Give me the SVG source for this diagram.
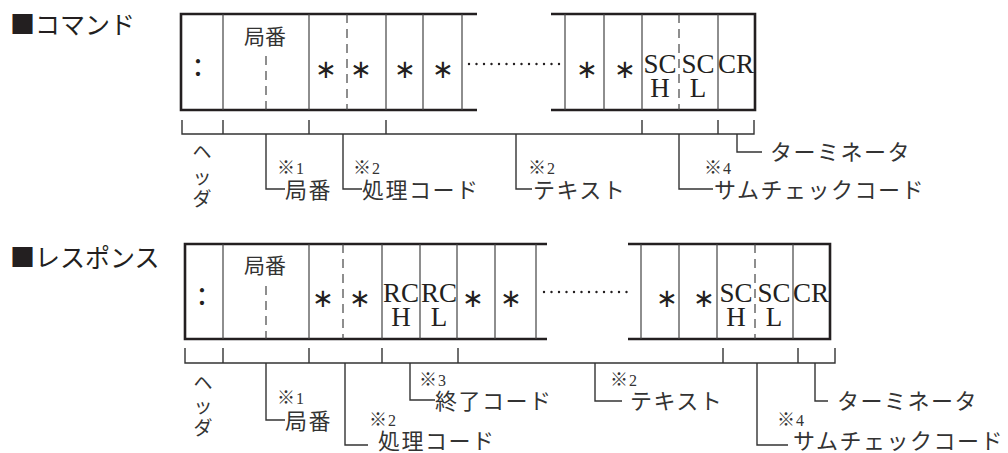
<svg xmlns="http://www.w3.org/2000/svg" width="1008" height="453" viewBox="0 0 1008 453">
<style>
.bg{fill:#fff}
.thick{stroke:#231f20;stroke-width:2.6;fill:none}
.col{stroke:#444;stroke-width:1.2;fill:none}
.dash{stroke:#444;stroke-width:1.2;stroke-dasharray:9 6;fill:none}
.dots{stroke:#231f20;stroke-width:2.4;stroke-linecap:round;stroke-dasharray:0 7.5;fill:none}
.br{stroke:#333;stroke-width:1.4;fill:none}
.title{font-family:"Noto Sans CJK JP",sans-serif;font-size:25px;fill:#231f20}
.jp{font-family:"Noto Sans CJK JP",sans-serif;font-size:22px;fill:#333;letter-spacing:1.5px}
.vt{font-family:"Noto Sans CJK JP",sans-serif;font-size:19px;fill:#333;text-anchor:middle}
.note{font-family:"Noto Sans CJK JP",sans-serif;font-size:18px;fill:#333}
.num{font-family:"Liberation Serif",serif;font-size:16px}
.cell{font-family:"Liberation Serif",serif;font-size:27px;fill:#231f20;text-anchor:middle}
.colon{font-family:"Liberation Serif",serif;font-size:36px;fill:#231f20;text-anchor:middle}
.ast{font-family:"DejaVu Sans",sans-serif;font-size:26px;fill:#231f20;text-anchor:middle}
.cjkc{font-family:"Noto Sans CJK JP",sans-serif;font-size:21px;fill:#333;text-anchor:middle}
</style>
<rect class="bg" width="1008" height="453"/>

<g id="title-command"><text class="title" x="10" y="34">■コマンド</text></g>
<g id="title-response"><text class="title" x="10" y="267">■レスポンス</text></g>

<g id="command-frame">
  <path class="thick" d="M477 14 H181 V110 H477"/>
  <path class="thick" d="M551 14 H755 V110 H551"/>
  <path class="col" d="M223 14 V110 M309 14 V110 M386 14 V110 M423 14 V110 M462 14 V110 M565 14 V110 M604 14 V110 M642 14 V110 M718 14 V110"/>
  <path class="dash" d="M266 56 V110 M347 14 V110 M679 14 V110"/>
  <path class="dots" d="M469 64 H562"/>
</g>
<g id="command-cells">
  <text class="colon" x="198" y="76">:</text>
  <text class="cjkc" x="265" y="44">局番</text>
  <text class="ast" x="326" y="78">∗</text>
  <text class="ast" x="361" y="78">∗</text>
  <text class="ast" x="405" y="78">∗</text>
  <text class="ast" x="443" y="78">∗</text>
  <text class="ast" x="587" y="78">∗</text>
  <text class="ast" x="625" y="78">∗</text>
  <text class="cell" x="660" y="73">SC</text>
  <text class="cell" x="660" y="97">H</text>
  <text class="cell" x="698" y="73">SC</text>
  <text class="cell" x="698" y="97">L</text>
  <text class="cell" x="736" y="73">CR</text>
</g>

<g id="command-connectors">
  <path class="br" d="M182 120 V134 H754 V120 M223 120 V134 M309 120 V134 M386 120 V134 M642 120 V134 M718 120 V134"/>
  <path class="br" d="M266 134 V189 H285"/>
  <path class="br" d="M343 134 V189 H362"/>
  <path class="br" d="M516 134 V189 H532"/>
  <path class="br" d="M679 134 V189 H713"/>
  <path class="br" d="M737 134 V152 H762"/>
</g>
<g id="command-labels">
  <text class="vt" x="202" y="159">ヘ</text>
  <text class="vt" x="202" y="184">ッ</text>
  <text class="vt" x="202" y="206">ダ</text>
  <text class="note" x="277" y="174">※<tspan class="num" dx="1">1</tspan></text>
  <text class="jp" x="285" y="198">局番</text>
  <text class="note" x="353" y="174">※<tspan class="num" dx="1">2</tspan></text>
  <text class="jp" x="362" y="198">処理コード</text>
  <text class="note" x="528" y="174">※<tspan class="num" dx="1">2</tspan></text>
  <text class="jp" x="533" y="198">テキスト</text>
  <text class="note" x="704" y="174">※<tspan class="num" dx="1">4</tspan></text>
  <text class="jp" x="714" y="198">サムチェックコード</text>
  <text class="jp" x="770" y="160">ターミネータ</text>
</g>

<g id="response-frame">
  <path class="thick" d="M547 244 H185 V339 H547"/>
  <path class="thick" d="M628 244 H830 V339 H628"/>
  <path class="col" d="M223 244 V339 M309 244 V339 M382 244 V339 M420 244 V339 M457 244 V339 M495 244 V339 M536 244 V339 M641 244 V339 M679 244 V339 M717 244 V339 M793 244 V339"/>
  <path class="dash" d="M266 286 V339 M343 244 V339 M755 244 V339"/>
  <path class="dots" d="M544 292 H634"/>
</g>
<g id="response-cells">
  <text class="colon" x="202" y="305">:</text>
  <text class="cjkc" x="265" y="273">局番</text>
  <text class="ast" x="323" y="307">∗</text>
  <text class="ast" x="360" y="307">∗</text>
  <text class="cell" x="401" y="302">RC</text>
  <text class="cell" x="401" y="326">H</text>
  <text class="cell" x="439" y="302">RC</text>
  <text class="cell" x="439" y="326">L</text>
  <text class="ast" x="473" y="307">∗</text>
  <text class="ast" x="511" y="307">∗</text>
  <text class="ast" x="667" y="307">∗</text>
  <text class="ast" x="704" y="307">∗</text>
  <text class="cell" x="736" y="302">SC</text>
  <text class="cell" x="736" y="326">H</text>
  <text class="cell" x="774" y="302">SC</text>
  <text class="cell" x="774" y="326">L</text>
  <text class="cell" x="811" y="302">CR</text>
</g>

<g id="response-connectors">
  <path class="br" d="M185 348 V363 H835 V348 M223 348 V363 M309 348 V363 M382 348 V363 M458 348 V363 M723 348 V363 M798 348 V363"/>
  <path class="br" d="M266 363 V420 H285"/>
  <path class="br" d="M345 363 V445 H368"/>
  <path class="br" d="M410 363 V400 H435"/>
  <path class="br" d="M595 363 V401 H622"/>
  <path class="br" d="M757 363 V445 H788"/>
  <path class="br" d="M815 363 V401 H828"/>
</g>
<g id="response-labels">
  <text class="vt" x="203" y="390">ヘ</text>
  <text class="vt" x="203" y="413">ッ</text>
  <text class="vt" x="203" y="435">ダ</text>
  <text class="note" x="277" y="404">※<tspan class="num" dx="1">1</tspan></text>
  <text class="jp" x="285" y="429">局番</text>
  <text class="note" x="369" y="426">※<tspan class="num" dx="1">2</tspan></text>
  <text class="jp" x="378" y="449">処理コード</text>
  <text class="note" x="419" y="386">※<tspan class="num" dx="1">3</tspan></text>
  <text class="jp" x="435" y="409">終了コード</text>
  <text class="note" x="610" y="386">※<tspan class="num" dx="1">2</tspan></text>
  <text class="jp" x="630" y="409">テキスト</text>
  <text class="note" x="777" y="426">※<tspan class="num" dx="1">4</tspan></text>
  <text class="jp" x="793" y="449">サムチェックコード</text>
  <text class="jp" x="837" y="409">ターミネータ</text>
</g>
</svg>
